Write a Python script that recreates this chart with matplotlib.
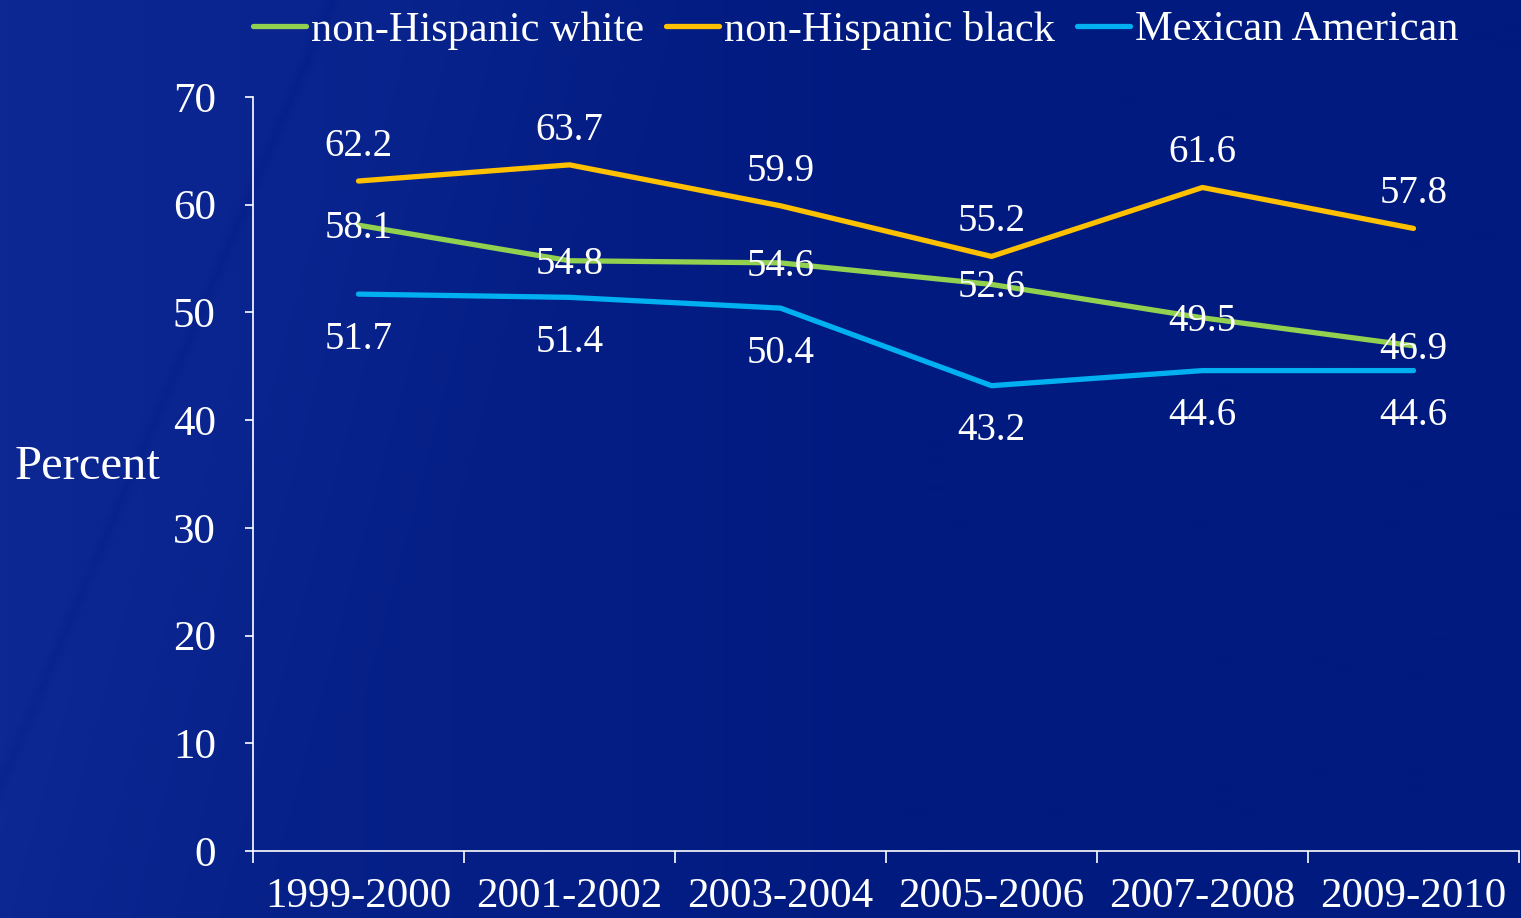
import numpy as np
import matplotlib
matplotlib.use('Agg')
import matplotlib.pyplot as plt

periods = ['1999-2000', '2001-2002', '2003-2004', '2005-2006', '2007-2008', '2009-2010']
white = [58.1, 54.8, 54.6, 52.6, 49.5, 46.9]
black = [62.2, 63.7, 59.9, 55.2, 61.6, 57.8]
mexican = [51.7, 51.4, 50.4, 43.2, 44.6, 44.6]
yticks = [0, 10, 20, 30, 40, 50, 60, 70]

GREEN = '#92D050'
ORANGE = '#FFC000'
BLUE = '#00B0F0'

plt.rcParams['font.family'] = ['Liberation Serif', 'DejaVu Serif']

fig = plt.figure(figsize=(15.21, 9.18), dpi=100)

# ── background: dark blue with lighter diagonal sweep on the left ──
H, W = 230, 380
yy, xx = np.mgrid[0:H, 0:W]
px = xx / W * 1521
py = yy / H * 918
left = np.array([10, 36, 142]) / 255
right = np.array([0, 26, 128]) / 255
t = np.clip(px / 900, 0, 1)[..., None]
bg = left * (1 - t) + right * t
edge = 720 - (720 - 250) * py / 918
glow = np.clip((edge - px) / 300, 0, 1) * 0.02
streak = np.exp(-((px - (330 - 330 * py / 780)) / 6) ** 2) * 0.015
bg = bg + glow[..., None] * np.array([0.6, 0.7, 1.0]) - streak[..., None]
bg = np.clip(bg, 0, 1)
bax = fig.add_axes([0, 0, 1, 1], zorder=-1)
bax.imshow(bg, aspect='auto', extent=[0, 1, 0, 1], interpolation='bilinear')
bax.axis('off')

ax = fig.add_axes([253 / 1521, 1 - 851 / 918, 1266 / 1521, 754 / 918])
ax.patch.set_alpha(0)

x = np.arange(len(periods))
l1, = ax.plot(x, white, color=GREEN, lw=3.8, solid_capstyle='round', label='non-Hispanic white')
l2, = ax.plot(x, black, color=ORANGE, lw=3.8, solid_capstyle='round', label='non-Hispanic black')
l3, = ax.plot(x, mexican, color=BLUE, lw=3.8, solid_capstyle='round', label='Mexican American')

for xi, v in zip(x, black):
    ax.annotate(f'{v:.1f}', (xi, v), xytext=(0, 25), textcoords='offset points',
                ha='center', va='center', color='white', fontsize=28)
for xi, v in zip(x, white):
    ax.annotate(f'{v:.1f}', (xi, v), xytext=(0, -2.5), textcoords='offset points',
                ha='center', va='center', color='white', fontsize=28)
for xi, v in zip(x, mexican):
    ax.annotate(f'{v:.1f}', (xi, v), xytext=(0, -32.5), textcoords='offset points',
                ha='center', va='center', color='white', fontsize=28)

ax.set_xlim(-0.5, len(periods) - 0.5)
ax.set_ylim(0, 70)
ax.set_yticks(yticks)
ax.set_yticklabels([str(v) for v in yticks])
ax.set_xticks(np.arange(len(periods) + 1) - 0.5)
ax.set_xticklabels([])
ax.set_xticks(x, minor=True)
ax.set_xticklabels(periods, minor=True)
ax.tick_params(axis='x', which='major', length=8.6, width=1.2, color='white', direction='out')
ax.tick_params(axis='x', which='minor', length=0, pad=19, labelsize=31, labelcolor='white')
ax.tick_params(axis='y', length=5.8, width=1.2, color='white', direction='out',
               pad=21, labelsize=31, labelcolor='white')
for s in ['top', 'right']:
    ax.spines[s].set_visible(False)
for s in ['left', 'bottom']:
    ax.spines[s].set_color('white')
    ax.spines[s].set_linewidth(1.2)

fig.text(15 / 1521, 1 - 467 / 918, 'Percent', color='white', fontsize=35,
         ha='left', va='center')

fig.legend(handles=[l1, l2, l3], loc='center', bbox_to_anchor=(856 / 1521, 1 - 30 / 918),
           ncol=3, frameon=False, fontsize=30.5, labelcolor='white',
           handlelength=1.25, handletextpad=0.12, columnspacing=0.52, borderpad=0)

fig.savefig('out.png', dpi=100)
